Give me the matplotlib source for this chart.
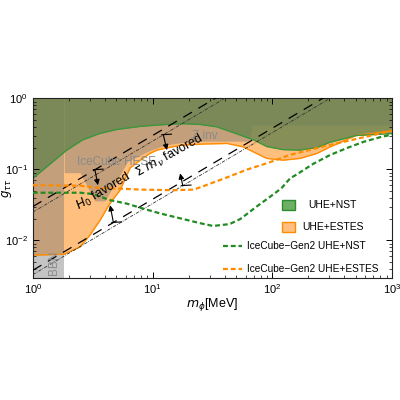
import matplotlib
matplotlib.use("Agg")
import matplotlib.pyplot as plt
import numpy as np
from matplotlib.patches import Rectangle

plt.rcParams['font.family'] = ['Liberation Sans', 'DejaVu Sans']
plt.rcParams['mathtext.fontset'] = 'dejavusans'

# ---------------- data ----------------
# UHE+NST excluded region (lower boundary)
green_m = [1, 1.4, 1.9, 2.6, 3.6, 5, 8, 13, 18, 25, 34, 45, 70, 90, 123, 170, 240, 300, 500, 1000]
green_g = [0.075, 0.12, 0.185, 0.26, 0.32, 0.365, 0.405, 0.43, 0.44, 0.43, 0.40, 0.34, 0.26, 0.21,
           0.19, 0.187, 0.205, 0.24, 0.30, 0.32]
# UHE+ESTES excluded region (lower boundary)
orange_m = [1, 1.83, 2.48, 3.0, 3.65, 4.4, 5.35, 6.5, 7.9, 9.5, 10.9, 13, 17.6, 27, 42, 57, 79, 90,
            123, 171, 236, 305, 500, 1000]
orange_g = [0.0062, 0.0064, 0.0081, 0.0119, 0.0193, 0.033, 0.051, 0.105, 0.135, 0.168, 0.187, 0.20,
            0.22, 0.228, 0.232, 0.208, 0.159, 0.143, 0.135, 0.143, 0.168, 0.208, 0.30, 0.35]
# IceCube HESE + Z inv (lower boundary)
hese_m = [1.83, 2.48, 3.3, 4.0, 6.2, 9.5, 13, 18, 27, 64, 68, 1000]
hese_g = [0.09, 0.09, 0.036, 0.036, 0.13, 0.185, 0.222, 0.24, 0.25, 0.25, 0.42, 0.42]
# BBN
bbn_m = [1, 1.83]
# IceCube-Gen2 projections
gen2_nst_m = [1, 2.5, 3.2, 4.4, 6.1, 8.4, 11.6, 17, 25, 32, 44, 54, 74, 103, 120, 141, 160, 220,
              305, 420, 580, 800, 1000]
gen2_nst_g = [0.047, 0.047, 0.045, 0.037, 0.033, 0.028, 0.024, 0.0205, 0.0175, 0.016, 0.017, 0.020,
              0.030, 0.045, 0.055, 0.075, 0.085, 0.12, 0.16, 0.20, 0.245, 0.285, 0.31]
gen2_estes_m = [1, 2.5, 3.5, 5, 8, 15, 22, 25, 40, 62, 90, 140, 266, 510, 1000]
gen2_estes_g = [0.060, 0.059, 0.055, 0.054, 0.052, 0.051, 0.052, 0.056, 0.075, 0.10, 0.122, 0.16,
                0.21, 0.27, 0.35]
# diagonal g = c * m lines
h0_coef = [0.030, 0.0038]      # long dashed
sum_coef = [0.025, 0.0033]     # dot-dashed
# arrows: (m_start, g_start, m_end, g_end)
arrows = [(3.3, 0.030 * 3.3, 3.5, 0.060),
          (4.71, 0.0038 * 4.71, 4.42, 0.0314),
          (12.3, 0.025 * 12.3, 13.2, 0.187),
          (17.9, 0.0033 * 17.9, 17.0, 0.088)]

# ---------------- figure ----------------
fig = plt.figure(figsize=(4, 4), dpi=100)
ax = fig.add_axes([0.082, 0.306, 0.898, 0.448])
ax.set_xscale('log')
ax.set_yscale('log')
ax.set_xlim(1, 1000)
ax.set_ylim(3e-3, 1)

top = 1.0
orange_c = (1.0, 0.506, 0.004)
gray_c = (0.463, 0.463, 0.463)
green_c = (105 / 255, 132 / 255, 80 / 255)

ax.fill_between(orange_m, orange_g, top, color=orange_c, alpha=0.5, lw=0, zorder=1)
ax.fill_between(bbn_m, 3e-3, top, color=gray_c, alpha=0.43, lw=0, zorder=1.1)
ax.fill_between(hese_m, hese_g, top, color=gray_c, alpha=0.43, lw=0, zorder=1.2)
ax.fill_between(green_m, green_g, top, color=green_c, alpha=0.8, lw=0, zorder=1.3)

ax.plot(orange_m, orange_g, color='#ff8c00', lw=1.0, zorder=2)
ax.plot(green_m, green_g, color='#3c963c', lw=1.0, zorder=2)

mm = np.array([1.0, 1000.0])
for c in h0_coef:
    ax.plot(mm, c * mm, color='black', lw=0.9, dashes=(8, 6), zorder=3)
for c in sum_coef:
    ax.plot(mm, c * mm, color='#333333', lw=0.6, dashes=(4, 1.5, 1, 1.5), zorder=3)

for (m0, g0, m1, g1) in arrows:
    ax.annotate('', xy=(m1, g1), xytext=(m0, g0),
                arrowprops=dict(arrowstyle='-|>', color='black', lw=0.8, mutation_scale=8,
                                shrinkA=0, shrinkB=0), zorder=4)
    ax.plot([m0 * 0.97, m0 * 1.17], [g0, g0 * 1.02], color='black', lw=0.8, zorder=4)

ax.plot(gen2_nst_m, gen2_nst_g, color='#228b22', lw=1.6, dashes=(2.2, 1.3), zorder=3.5)
ax.plot(gen2_estes_m, gen2_estes_g, color='#ff8c00', lw=1.6, dashes=(2.2, 1.3), zorder=3.5)

# labels in plot
ax.text(4.97, 0.128, 'IceCube HESE', color='#8a8a8a', fontsize=8.5, ha='center', va='center', zorder=5)
ax.text(27.5, 0.294, 'Z inv', color='#8a8a8a', fontsize=8.5, ha='center', va='center', zorder=5)
ax.text(1.49, 0.0049, 'BBN', color='#8a8a8a', fontsize=8.5, ha='center', va='center', rotation=90, zorder=5)
ax.text(3.87, 0.0493, r'$H_0$ favored', fontsize=9, ha='center', va='center', rotation=31,
        rotation_mode='anchor', zorder=5)
ax.text(13.8, 0.155, r'$\Sigma\ m_\nu$ favored', fontsize=9, ha='center', va='center', rotation=29,
        rotation_mode='anchor', zorder=5)

# legend (manual)
ax.add_patch(Rectangle((0.693, 0.377), 0.037, 0.056, transform=ax.transAxes,
                       fc=(110 / 255, 175 / 255, 100 / 255), ec='#2e8b2e', lw=1, zorder=6))
ax.text(0.833, 0.405, 'UHE+NST', transform=ax.transAxes, fontsize=7.5, ha='center', va='center', zorder=6)
ax.add_patch(Rectangle((0.693, 0.256), 0.037, 0.056, transform=ax.transAxes,
                       fc=(1.0, 0.75, 0.5), ec='#ff8c00', lw=1, zorder=6))
ax.text(0.836, 0.284, 'UHE+ESTES', transform=ax.transAxes, fontsize=7.5, ha='center', va='center', zorder=6)
ax.plot([0.530, 0.583], [0.178, 0.178], transform=ax.transAxes, color='#228b22', lw=1.6,
        dashes=(2.2, 1.3), zorder=6)
ax.text(0.597, 0.178, 'IceCube\u2212Gen2 UHE+NST', transform=ax.transAxes, fontsize=7.3,
        ha='left', va='center', zorder=6)
ax.plot([0.530, 0.583], [0.047, 0.047], transform=ax.transAxes, color='#ff8c00', lw=1.6,
        dashes=(2.2, 1.3), zorder=6)
ax.text(0.597, 0.047, 'IceCube\u2212Gen2 UHE+ESTES', transform=ax.transAxes, fontsize=7.3,
        ha='left', va='center', zorder=6)

ax.set_xlabel(r'$m_\phi$[MeV]', fontsize=9, labelpad=0)
ax.set_ylabel(r'$g_{\tau\tau}$', fontsize=8.5)
ax.yaxis.set_label_coords(-0.053, 0.5)
ax.tick_params(which='both', direction='in', top=True, right=True, labelsize=8)
ax.tick_params(which='major', length=4, width=0.7)
ax.tick_params(which='minor', length=2, width=0.5)
for s in ax.spines.values():
    s.set_linewidth(0.8)
    s.set_color('#222222')

fig.savefig('out.png', dpi=100)
